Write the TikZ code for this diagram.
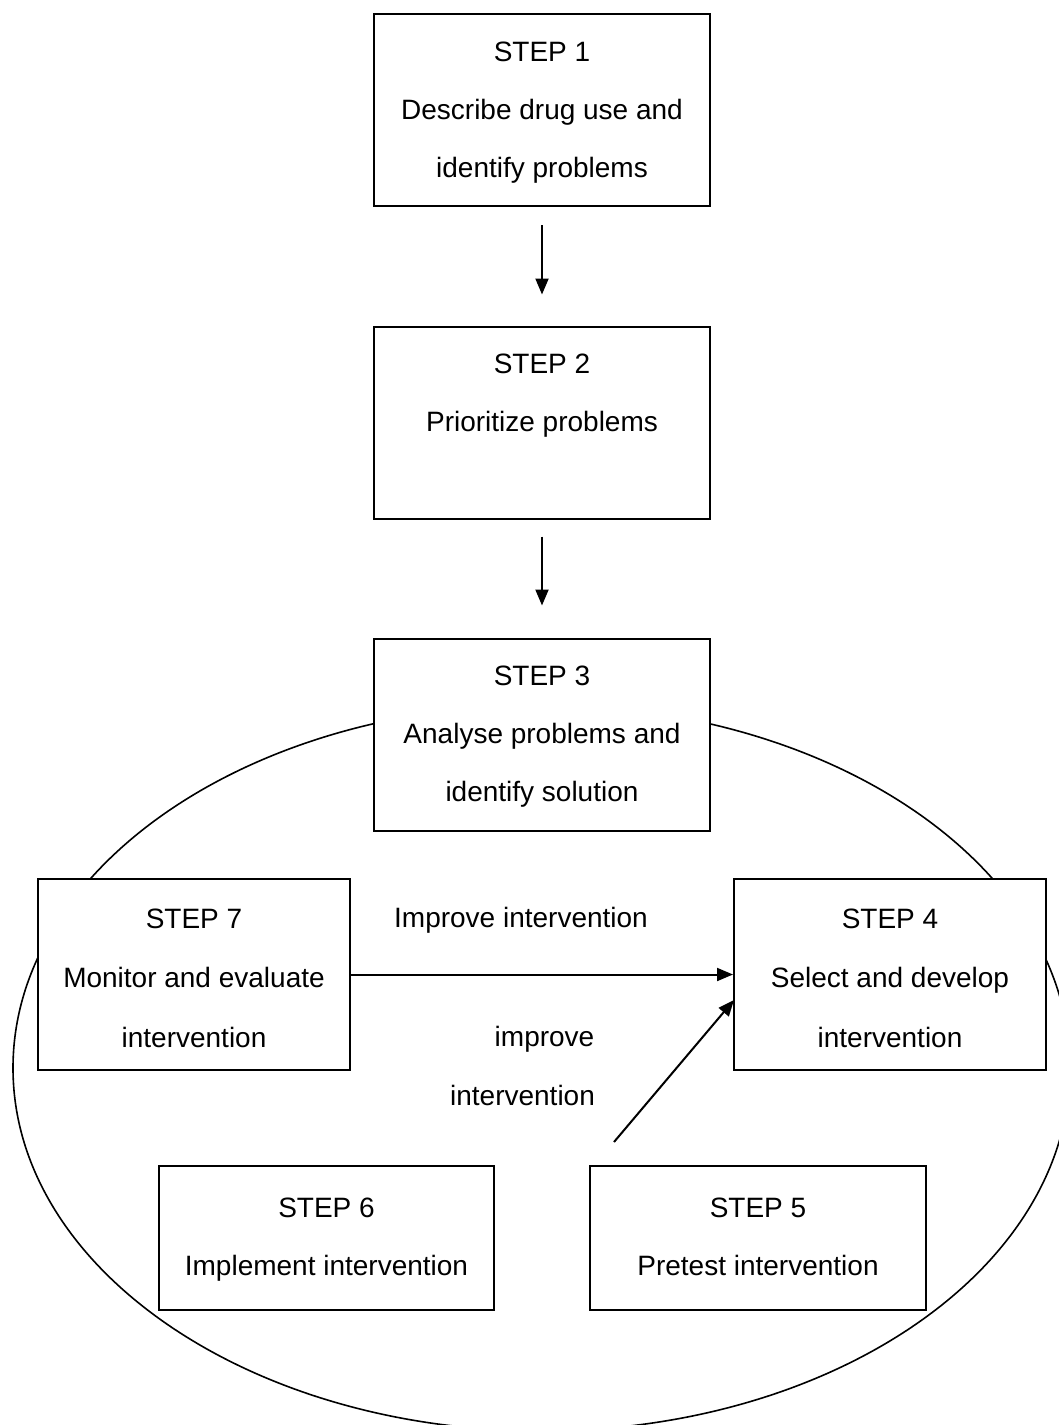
\documentclass[tikz,border=0pt]{standalone}
\usepackage{fontspec}
\setmainfont{Liberation Sans}
\usetikzlibrary{arrows.meta}
\newcommand\hta{\rule{0pt}{27pt}}
\newcommand\htb{\rule{0pt}{35pt}}
\newcommand\htc{\rule{0pt}{25pt}}
\newcommand\dpa{\rule[-9pt]{0pt}{9pt}}
\begin{document}
\begin{tikzpicture}[x=1pt,y=-1pt,
  stepbox/.style={draw,line width=2pt,fill=white,inner sep=0pt,align=center,
    font={\fontsize{28}{58}\selectfont}},
  rowbox/.style={stepbox,font={\fontsize{28}{59.5}\selectfont}},
  lbl/.style={font={\fontsize{28}{34}\selectfont},inner sep=0pt,anchor=base},
  conn/.style={line width=2pt,-{Triangle[length=16pt,width=13pt]}}]
\useasboundingbox (0,0) rectangle (1059,1425);
\clip (0,0) rectangle (1059,1425);
\draw[line width=1.6pt] (541.5,1068) ellipse [x radius=528.5pt, y radius=363pt];
\node[stepbox,minimum width=336pt,minimum height=192pt] (s1) at (542,110)
  {\hta STEP 1\\Describe drug use and\\identify problems\dpa};
\node[stepbox,minimum width=336pt,minimum height=192pt] (s2) at (542,422.5)
  {\hta STEP 2\\Prioritize problems\\\dpa};
\node[stepbox,minimum width=336pt,minimum height=192pt] (s3) at (542,734.5)
  {\hta STEP 3\\Analyse problems and\\identify solution\dpa};
\node[rowbox,minimum width=312pt,minimum height=191pt] (s7) at (194,974.5)
  {\htb STEP 7\\Monitor and evaluate\\intervention\dpa};
\node[rowbox,minimum width=312pt,minimum height=191pt] (s4) at (890,974.5)
  {\htb STEP 4\\Select and develop\\intervention\dpa};
\node[stepbox,minimum width=335pt,minimum height=144pt] (s6) at (326.5,1238)
  {\htc STEP 6\\Implement intervention\dpa};
\node[stepbox,minimum width=336pt,minimum height=144pt] (s5) at (758,1238)
  {\htc STEP 5\\Pretest intervention\dpa};
\node[lbl] (l1) at (521,927) {Improve intervention};
\node[lbl] (l2) at (544.5,1046) {improve};
\node[lbl] (l3) at (522.5,1105) {intervention};
\draw[conn,shorten <=18pt,shorten >=31pt] (s1.south) -- (s2.north);
\draw[conn,shorten <=17pt,shorten >=32pt] (s2.south) -- (s3.north);
\draw[conn] (s7.east) -- (s4.west);
\coordinate (p5) at (614,1142);
\coordinate (p4) at (734,1000);
\draw[conn] (p5) -- (p4);
\end{tikzpicture}
\end{document}
